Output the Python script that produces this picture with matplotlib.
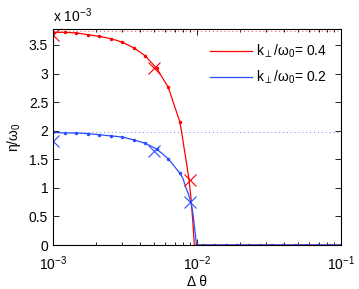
import matplotlib
matplotlib.use('Agg')
import matplotlib.pyplot as plt
import numpy as np
from matplotlib.ticker import FuncFormatter, LogLocator, NullFormatter

plt.rcParams['font.family'] = ['Liberation Sans', 'DejaVu Sans']
plt.rcParams['mathtext.fontset'] = 'custom'
plt.rcParams['mathtext.rm'] = 'Liberation Sans'
plt.rcParams['mathtext.it'] = 'Liberation Sans'

# sampling grid of the dots (0.08 decade steps from 1e-3 to 1e-1)
dtheta = np.logspace(-3, -1, 26)

# dot values (units of 1e-3), first 12 samples, rest are zero
red_dots = [3.72, 3.72, 3.71, 3.68, 3.65, 3.61, 3.55, 3.45, 3.31, 3.09, 2.76, 2.16]
blue_dots = [1.97, 1.96, 1.96, 1.95, 1.93, 1.91, 1.89, 1.84, 1.78, 1.68, 1.51, 1.26]

# extra points of the smooth curves through the steep drop
red_drop_x = [7.85e-3, 8.13e-3, 8.50e-3, 8.80e-3, 9.10e-3, 9.33e-3, 9.58e-3]
red_drop_y = [1.95, 1.70, 1.40, 1.14, 0.80, 0.44, 0.0]
blue_drop_x = [8.00e-3, 8.32e-3, 8.70e-3, 9.04e-3, 9.30e-3, 9.50e-3, 9.92e-3]
blue_drop_y = [1.16, 1.02, 0.90, 0.76, 0.60, 0.42, 0.0]

# cross markers
cross_x = [1e-3, 5e-3, 9e-3]
red_cross = [3.68, 3.10, 1.14]
blue_cross = [1.82, 1.65, 0.76]

# dotted reference levels
red_level = 3.75
blue_level = 1.98

labels = ['k$_{\\perp}$/ω$_0$= 0.4', 'k$_{\\perp}$/ω$_0$= 0.2']
red = '#ff0000'
blue = '#2a4dff'

n = len(red_dots)
zeros = [0.0] * (len(dtheta) - n - 1)
red_line_x = list(dtheta[:n]) + red_drop_x + list(dtheta[n + 1:])
red_line_y = red_dots + red_drop_y + zeros
blue_line_x = list(dtheta[:n]) + blue_drop_x + list(dtheta[n + 1:])
blue_line_y = blue_dots + blue_drop_y + zeros

s = 1e-3
fig = plt.figure(figsize=(3.59, 2.89), dpi=100)
ax = fig.add_axes([0.1476, 0.152, 0.8024, 0.748])

ax.axhline(red_level * s, color=red, ls=(0, (1, 3)), lw=0.7, alpha=0.7)
ax.axhline(blue_level * s, color=blue, ls=(0, (1, 3)), lw=0.7, alpha=0.7)

ax.plot(red_line_x, np.array(red_line_y) * s, color=red, lw=0.9, label=labels[0])
ax.plot(dtheta[:n], np.array(red_dots) * s, '.', color=red, ms=3)
ax.plot(blue_line_x, np.array(blue_line_y) * s, color=blue, lw=0.9, label=labels[1])
ax.plot(dtheta[:n], np.array(blue_dots) * s, '.', color=blue, ms=3)
ax.plot(dtheta[n + 1:], np.array(zeros) * s, '.', color=blue, ms=3)

ax.plot(cross_x, np.array(red_cross) * s, 'x', color=red, ms=8, mew=0.8)
ax.plot(cross_x, np.array(blue_cross) * s, 'x', color=blue, ms=8, mew=0.8)

ax.set_xscale('log')
ax.set_xlim(1e-3, 1e-1)
ax.set_ylim(0, 3.78e-3)
ax.set_yticks(np.arange(0, 3.6, 0.5) * s)
ax.yaxis.set_major_formatter(FuncFormatter(lambda v, p: '%g' % round(v / s, 2)))
ax.xaxis.set_minor_locator(LogLocator(base=10, subs=np.arange(2, 10)))
ax.xaxis.set_minor_formatter(NullFormatter())
ax.tick_params(which='both', direction='in', top=True, right=True, labelsize=10)
ax.tick_params(which='major', length=4, width=0.6)
ax.tick_params(which='minor', length=2.5, width=0.6)
ax.tick_params(axis='x', which='major', pad=7)
for sp in ax.spines.values():
    sp.set_linewidth(0.8)

ax.text(0.0, 1.02, 'x 10$^{-3}$', transform=ax.transAxes, fontsize=10, va='bottom', ha='left')
ax.set_xlabel('Δ θ', fontsize=10, labelpad=1)
ax.set_ylabel('η/ω$_0$', fontsize=10, labelpad=4)

ax.legend(loc='upper right', frameon=False, fontsize=10, handlelength=3.0,
          handletextpad=0.3, labelspacing=0.6, borderaxespad=0.6)

fig.savefig('out.png', dpi=100)
